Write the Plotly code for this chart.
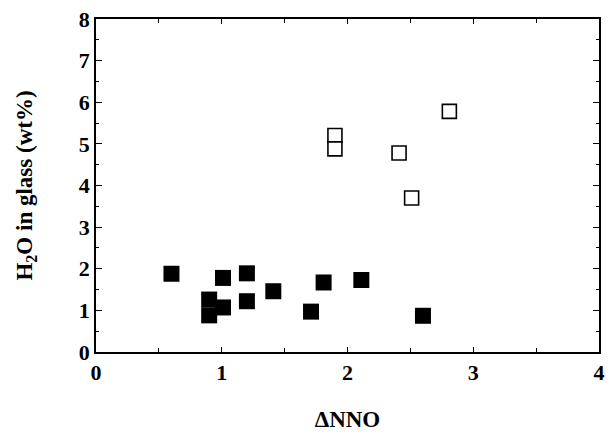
import plotly.graph_objects as go

# Filled squares
filled_x = [0.60, 0.90, 0.90, 1.01, 1.01, 1.20, 1.20, 1.41, 1.71, 1.81, 2.11, 2.60]
filled_y = [1.88, 1.26, 0.88, 1.78, 1.07, 1.89, 1.22, 1.46, 0.97, 1.67, 1.73, 0.87]

# Open squares
open_x = [1.90, 1.90, 2.41, 2.51, 2.81]
open_y = [5.20, 4.88, 4.78, 3.70, 5.78]

x_ticks = [0, 1, 2, 3, 4]
y_ticks = [0, 1, 2, 3, 4, 5, 6, 7, 8]

FONT = "Liberation Serif"

fig = go.Figure()
fig.add_trace(go.Scatter(
    x=filled_x, y=filled_y, mode="markers",
    marker=dict(symbol="square", size=16, color="black", line=dict(width=0)),
    showlegend=False, cliponaxis=False))
fig.add_trace(go.Scatter(
    x=open_x, y=open_y, mode="markers",
    marker=dict(symbol="square", size=14, color="white", line=dict(width=1.6, color="black")),
    showlegend=False, cliponaxis=False))

axis_common = dict(
    showgrid=False, zeroline=False, showline=True, linecolor="black", linewidth=1.5,
    mirror="allticks", ticks="inside", tickcolor="black", tickwidth=1.2,
    tickfont=dict(family=FONT, size=22, color="black", weight="bold"),
)

fig.update_xaxes(
    range=[0, 4], tickvals=x_ticks, ticktext=[str(v) for v in x_ticks], ticklen=5,
    minor=dict(dtick=0.5, tick0=0, ticks="inside", ticklen=4, tickcolor="black", tickwidth=1),
    title=dict(text="ΔNNO", font=dict(family=FONT, size=23, color="black", weight="bold"), standoff=27),
    **axis_common)
fig.update_yaxes(
    range=[0, 8], tickvals=y_ticks, ticktext=[str(v) for v in y_ticks], ticklen=6,
    minor=dict(dtick=0.5, tick0=0, ticks="inside", ticklen=3, tickcolor="black", tickwidth=1),
    title=dict(text="H<sub>2</sub>O in glass (wt%)", font=dict(family=FONT, size=23, color="black", weight="bold"), standoff=40),
    **axis_common)

fig.update_layout(
    width=612, height=435,
    margin=dict(l=96, r=7, t=18, b=82),
    paper_bgcolor="white", plot_bgcolor="white",
)

fig.write_html("out.html", config={"displayModeBar": False},
               post_script="document.body.style.margin='0';")
